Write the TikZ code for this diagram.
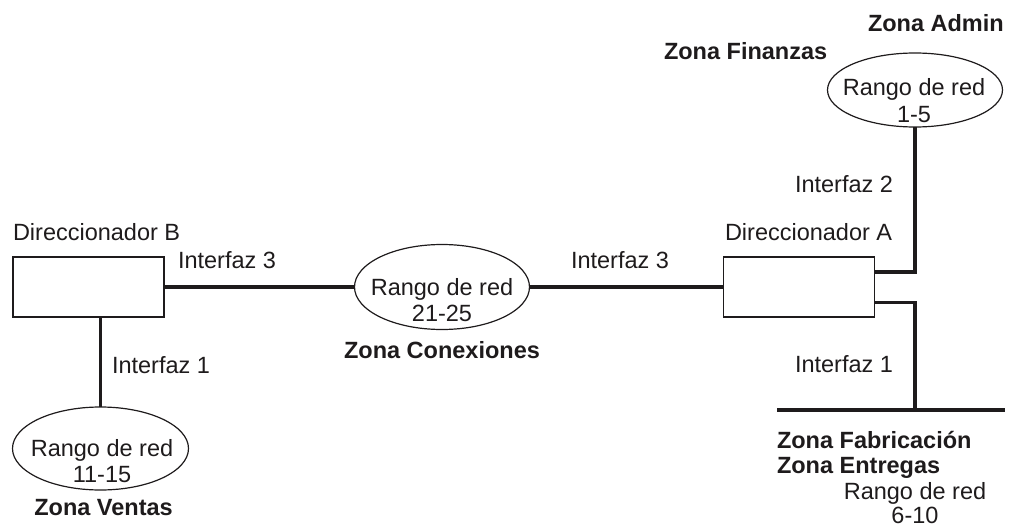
\documentclass[tikz,border=0pt]{standalone}
\usepackage{fontspec}
\setmainfont{Liberation Sans}
\usetikzlibrary{shapes.geometric}
\definecolor{ink}{HTML}{1E1B1C}
\tikzset{
  txt/.style={inner sep=0pt, outer sep=0pt, text=ink, font=\fontsize{23.5}{26.5}\selectfont},
  btxt/.style={txt, font=\fontsize{23.5}{26.5}\selectfont\bfseries},
  router/.style={draw=ink, line width=1.2pt, rectangle, minimum width=151pt, minimum height=60pt, inner sep=0pt, outer sep=0pt},
  net/.style={draw=ink, line width=1.2pt, ellipse, inner sep=0pt, outer sep=0pt},
  link/.style={draw=ink, line width=3.3pt, line join=miter}
}
\begin{document}
\begin{tikzpicture}[x=1pt,y=-1pt]
\useasboundingbox (0,0) rectangle (1010,527);
% routers
\node[router] (B) at (88.5,287) {};
\node[router] (A) at (799,287) {};
% networks
\node[net, minimum width=175pt, minimum height=74pt] (ad) at (915,90) {};
\node[net, minimum width=175pt, minimum height=85pt] (cx) at (442,287) {};
\node[net, minimum width=176pt, minimum height=83pt] (vt) at (100.5,448.5) {};
% ellipse labels
\node[txt, align=center] (adl) at (914,100.5) {Rango de red\\1-5};
\node[txt, align=center] (cxl) at (442,300) {Rango de red\\21-25};
\node[txt, align=center] (vtl) at (102,461) {Rango de red\\11-15};
% coordinates
\coordinate (a2) at (875,272);
\coordinate (a1) at (875,302.5);
\coordinate (j1) at (915,410);
\coordinate (busL) at (777,410);
\coordinate (busR) at (1005,410);
% connectors
\draw[link] (B.east) -- (cx.west);
\draw[link] (cx.east) -- (A.west);
\draw[link] (vt.north) -- (vt.north |- B.south);
\draw[link] (ad.south) |- (a2);
\draw[link] (a1) -| (j1);
\draw[link] (busL) -- (busR);
% labels
\node[txt, anchor=base west] (lDB) at (13,240) {Direccionador B};
\node[txt, anchor=base west] (lDA) at (725,240) {Direccionador A};
\node[txt, anchor=base west] (lI3B) at (178,268) {Interfaz 3};
\node[txt, anchor=base west] (lI3A) at (571,268) {Interfaz 3};
\node[txt, anchor=base west] (lI1B) at (112,373) {Interfaz 1};
\node[txt, anchor=base west] (lI1A) at (795,372) {Interfaz 1};
\node[txt, anchor=base west] (lI2A) at (795,192) {Interfaz 2};
\node[btxt, anchor=base west] (zAd) at (868,32) {Zona Admin};
\node[btxt, anchor=base west] (zFi) at (664,60) {Zona Finanzas};
\node[btxt, anchor=base] (zCx) at (442,358) {Zona Conexiones};
\node[btxt, anchor=base] (zVt) at (103.5,515) {Zona Ventas};
\node[btxt, anchor=base west] (zFa) at (777,448) {Zona Fabricación};
\node[btxt, anchor=base west] (zEn) at (777,473) {Zona Entregas};
\node[txt, anchor=base] (rFa1) at (915,499) {Rango de red};
\node[txt, anchor=base] (rFa2) at (915,523) {6-10};
\end{tikzpicture}
\end{document}
